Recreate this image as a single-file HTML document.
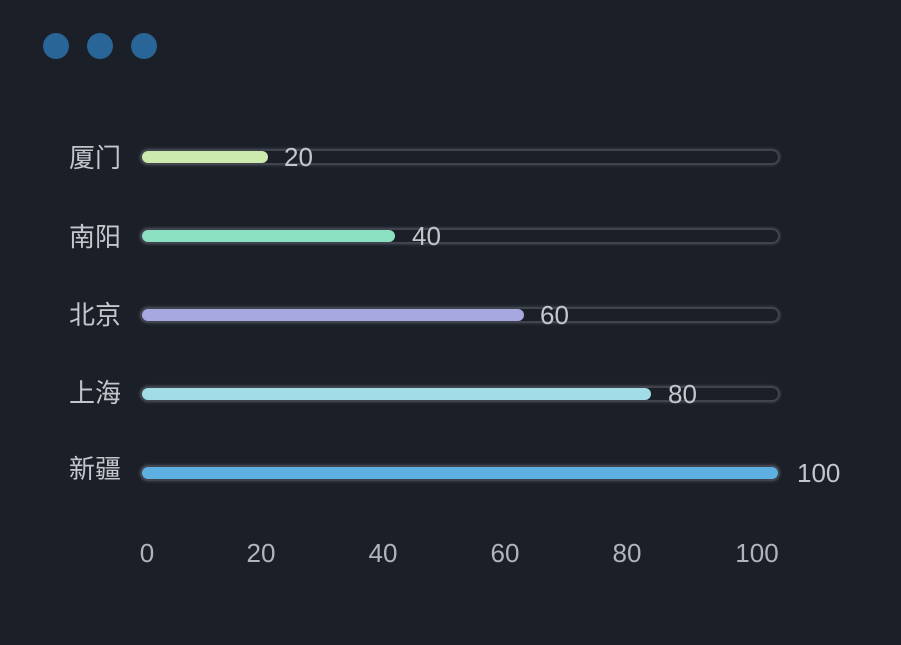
<!DOCTYPE html>
<html><head><meta charset="utf-8"><style>
body{margin:0;background:#1b1f28;width:901px;height:645px;overflow:hidden;position:relative;font-family:"Liberation Sans","Noto Sans CJK SC",sans-serif;}
.dot{position:absolute;top:33px;width:26px;height:26px;border-radius:50%;background:#2a6598;}
.lab{position:absolute;left:69px;color:#c4c6cc;font-size:26px;line-height:30px;}
.track{position:absolute;left:140px;width:640px;height:16px;box-sizing:border-box;border:2px solid #40444d;border-radius:8px;box-shadow:0 0 3px rgba(150,150,160,0.4);}
.fill{position:absolute;left:142px;height:12px;border-radius:6px;}
.val{position:absolute;color:#c4c6cc;font-size:26px;line-height:30px;}
.ax{position:absolute;top:538px;color:#b0b4bc;font-size:26px;line-height:30px;transform:translateX(-50%);}
</style></head><body>
<div class="dot" style="left:43px"></div><div class="dot" style="left:87px"></div><div class="dot" style="left:131px"></div>

<div class="lab" style="top:143px">厦门</div>
<div class="track" style="top:149px"></div>
<div class="fill" style="top:151px;width:126px;background:#cce9ae"></div>
<div class="val" style="left:284px;top:142px">20</div>

<div class="lab" style="top:222px">南阳</div>
<div class="track" style="top:228px"></div>
<div class="fill" style="top:230px;width:253px;background:#8be0c2"></div>
<div class="val" style="left:412px;top:221px">40</div>

<div class="lab" style="top:300px">北京</div>
<div class="track" style="top:307px"></div>
<div class="fill" style="top:309px;width:382px;background:#a8a8e0"></div>
<div class="val" style="left:540px;top:300px">60</div>

<div class="lab" style="top:378px">上海</div>
<div class="track" style="top:386px"></div>
<div class="fill" style="top:388px;width:509px;background:#a2dce6"></div>
<div class="val" style="left:668px;top:379px">80</div>

<div class="lab" style="top:454px">新疆</div>
<div class="track" style="top:465px"></div>
<div class="fill" style="top:467px;width:636px;background:#5eb0e2"></div>
<div class="val" style="left:797px;top:458px">100</div>

<div class="ax" style="left:147px">0</div>
<div class="ax" style="left:261px">20</div>
<div class="ax" style="left:383px">40</div>
<div class="ax" style="left:505px">60</div>
<div class="ax" style="left:627px">80</div>
<div class="ax" style="left:757px">100</div>
</body></html>
